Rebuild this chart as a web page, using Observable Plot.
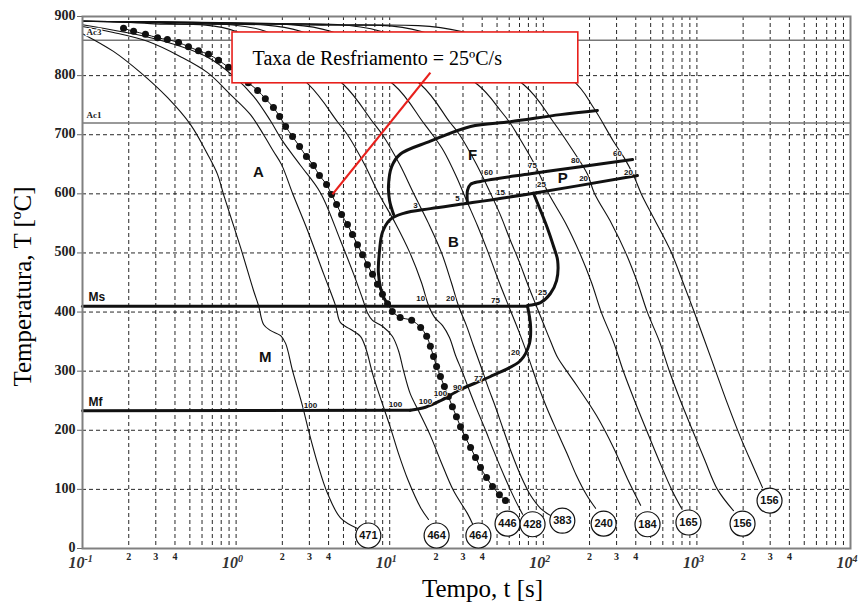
<!DOCTYPE html>
<html>
<head>
<meta charset="utf-8">
<script src="https://cdn.jsdelivr.net/npm/d3@7"></script>
<script src="https://cdn.jsdelivr.net/npm/@observablehq/plot@0.6"></script>
<style>
  html, body { margin: 0; padding: 0; background: #fff; }
  #chart svg { display: block; }
</style>
</head>
<body>
<div id="chart"></div>
<script>
// Continuous-cooling curves, [time (s), temperature (°C)], named by final hardness (HV)
const curve471 = [[0.1,871],[0.159,841],[0.239,805],[0.357,763],[0.505,717],[0.652,667],[0.757,633],[0.828,599],[1.07,509],[1.30,436],[1.40,411],[1.51,379],[1.67,369],[1.95,360],[2.10,347],[2.33,301],[2.70,242],[2.96,200],[3.39,144],[3.94,93],[4.78,52],[6.17,34]];
const curve464a = [[0.1,883],[0.159,873],[0.265,858],[0.435,832],[0.652,805],[0.920,768],[1.24,734],[1.51,700],[1.75,672],[1.98,649],[2.33,601],[2.92,538],[3.71,465],[4.44,411],[4.78,382],[5.55,371],[6.45,359],[7.06,335],[7.73,296],[9.12,239],[10.1,205],[11.4,161],[13.2,115],[15.9,69],[17.9,49]];
const curve464b = [[0.1,886],[0.308,861],[0.652,831],[0.962,799],[1.30,765],[1.67,724],[2.00,690],[2.63,648],[3.54,602],[4.78,521],[5.81,465],[6.65,423],[7.16,399],[7.73,386],[8.97,376],[10.4,359],[11.4,335],[12.3,301],[13.6,262],[15.4,233],[18.4,191],[21.4,149],[26.0,98],[32.1,59],[34.6,42]];
const curve428 = [[0.1,892],[0.277,888],[0.99,875],[2.96,785],[4.57,722],[5.31,700],[6.85,650],[8.45,601],[10.9,550],[13.5,501],[16.1,450],[17.9,411],[19.6,391],[22.1,377],[24.5,357],[26.8,327],[29.8,298],[32.6,271],[36.7,237],[42.1,200],[47.4,166],[56.7,118],[65.9,81],[73.3,58]];
const curve383 = [[0.1,892],[0.374,888],[1.55,875],[5.00,785],[7.73,722],[8.97,700],[11.6,650],[14.3,601],[17.9,550],[21.7,501],[25.2,450],[28.0,411],[31.6,377],[35.1,343],[39.0,310],[43.3,276],[48.9,239],[55.1,200],[62.1,162],[71.1,124],[82.6,90],[95.9,68],[111,56]];
const curve240 = [[0.1,892],[0.587,888],[2.63,875],[10.6,785],[16.4,722],[19.0,700],[22.4,673],[27.2,629],[31.6,589],[37.3,546],[43.3,504],[50.3,458],[59.3,411],[68.9,369],[80.1,323],[91.6,279],[105,239],[122,200],[142,162],[164,124],[191,91],[219,68]];
const curve184 = [[0.1,892],[0.791,888],[4.12,875],[15.9,785],[24.5,722],[28.5,700],[36.7,650],[45.3,601],[52.6,564],[61.1,521],[70.0,484],[78.9,448],[88.9,414],[100,381],[111,352],[124,323],[144,298],[169,272],[222,225],[286,171],[353,118],[430,73]];
const curve165 = [[0.1,892],[1.24,888],[8.71,875],[37.3,785],[52.6,741],[61.1,719],[67.9,700],[87.7,650],[108,601],[140,550],[172,501],[206,450],[239,399],[286,350],[333,299],[393,250],[470,200],[562,151],[684,100],[794,68]];
const curve156a = [[0.1,892],[2.63,886],[15.9,875],[74.3,785],[116,722],[157,672],[194,633],[215,601],[278,550],[343,501],[410,450],[477,399],[571,350],[664,299],[782,250],[936,200],[1120,151],[1361,100],[1730,64]];
const curve156b = [[0.1,892],[4.12,886],[28.9,875],[155,792],[212,746],[286,689],[338,660],[387,631],[436,599],[521,560],[673,504],[818,448],[951,403],[1104,357],[1321,301],[1581,245],[1923,188],[2339,137],[2674,103]];

// Cooling at 25 °C/s (dotted path)
const rate25 = [[0.185,880],[0.215,875],[0.257,870],[0.308,864],[0.357,861],[0.422,856],[0.490,849],[0.569,842],[0.661,836],[0.768,826],[0.893,814],[1.04,802],[1.20,788],[1.38,775],[1.55,761],[1.75,746],[1.92,731],[2.10,714],[2.33,697],[2.59,680],[2.87,663],[3.19,648],[3.49,631],[3.88,616],[4.18,599],[4.51,582],[4.86,565],[5.31,548],[5.72,531],[6.17,514],[6.65,497],[7.16,480],[7.73,464],[8.33,447],[8.97,430],[9.68,414],[10.4,401],[11.7,391],[13.9,386],[15.9,374],[17.4,359],[18.4,342],[19.3,325],[20.2,308],[21.4,291],[22.7,274],[24.1,257],[25.6,240],[27.2,223],[28.9,206],[31.1,188],[33.6,171],[36.2,154],[39.0,137],[42.7,120],[46.7,105],[51.8,91],[56.7,81]];

// Transformation boundaries
const ferriteStart = [[225,741],[129,734],[61.1,722],[33.6,714],[18.4,689],[11.7,667],[10.3,646],[9.82,614],[9.97,589],[10.6,565]];
const bainiteStart = [[410,631],[86.3,601],[32.1,584],[18.4,575],[12.3,567],[10.1,557],[8.97,535],[8.59,504],[8.45,465],[9.12,425],[9.97,411]];
const pearliteStart = [[32.1,584],[32.1,606],[33.6,616],[39.0,621],[82.6,634],[175,646],[381,658]];
const bainiteEnd = [[86.3,601],[95.9,572],[106,543],[116,513],[124,487],[122,453],[111,431],[95.9,416],[78.9,411]];
const msLine = [[0.1,410],[78.9,410]];
const mfCurve = [[78.9,410],[82.6,377],[81.3,347],[71.1,318],[45.3,291],[28.9,269],[21.4,250],[17.1,239],[13.6,234]];
const mfLine = [[13.6,234],[0.1,233]];

// Critical temperatures
const acTemps = [860, 720];
const acNames = ["Ac3", "Ac1"];
const acLabelT = [874, 734];

// Final hardness, with label position
const hardness = [471, 464, 464, 446, 428, 383, 240, 184, 165, 156, 156];
const hardnessTime = [7.26, 20.2, 37.8, 58.5, 85.1, 133, 247, 477, 881, 1982, 2971];
const hardnessTemp = [22, 22, 22, 42, 41, 47, 42, 41, 44, 42, 81];

// Phase field letters
const phaseText = ["A", "M", "F", "B", "P"];
const phaseTime = [1.40, 1.55, 34.6, 26.0, 134];
const phaseTemp = [636, 323, 665, 518, 626];

// Percent-transformed figures along the boundaries
const pctText = ["3","5","15","25","60","75","80","60","20","20","10","20","75","25","20","77","90","100","100","100","100"];
const pctTime = [14.7,27.6,52.6,97.3,44.0,85.1,162,304,183,359,15.9,24.9,48.9,98.8,65.9,37.8,27.6,21.4,17.1,10.9,3.05];
const pctTemp = [580,592,602,616,636,648,656,668,626,636,423,423,420,433,332,288,272,262,249,244,242];

// Axes
const yTicks = [0, 100, 200, 300, 400, 500, 600, 700, 800, 900];
const decades = [0.1, 1, 10, 100, 1000, 10000];
const decadeExp = ["-1", "0", "1", "2", "3", "4"];
const minorTicks = [0.2, 0.3, 0.4, 2, 3, 4, 20, 30, 40, 200, 300, 400, 2000, 3000, 4000];
const minorText = ["2","3","4","2","3","4","2","3","4","2","3","4","2","3","4"];

// Annotation
const noteText = "Taxa de Resfriamento = 25ºC/s";
const noteBox = {t1: 0.948, t2: 169, T1: 787, T2: 873};
const noteTextAt = {t: 1.28, T: 829};
const noteArrow = {t1: 18.4, T1: 805, t2: 4.24, T2: 599};

const toRows = (id, pts) => pts.map(([t, T]) => ({id, t, T}));
const thinRows = [
  ...toRows("471", curve471), ...toRows("464a", curve464a), ...toRows("464b", curve464b),
  ...toRows("428", curve428), ...toRows("383", curve383), ...toRows("240", curve240),
  ...toRows("184", curve184), ...toRows("165", curve165), ...toRows("156a", curve156a),
  ...toRows("156b", curve156b)
];
const thickRows = [
  ...toRows("Fs", ferriteStart), ...toRows("Bs", bainiteStart), ...toRows("Ps", pearliteStart),
  ...toRows("Bf", bainiteEnd), ...toRows("Mfc", mfCurve)
];
const straightRows = [...toRows("Ms", msLine), ...toRows("Mf", mfLine)];
const dotRows = toRows("r25", rate25);
const hardRows = hardness.map((h, i) => ({h, t: hardnessTime[i], T: hardnessTemp[i]}));
const phaseRows = phaseText.map((s, i) => ({s, t: phaseTime[i], T: phaseTemp[i]}));
const pctRows = pctText.map((s, i) => ({s, t: pctTime[i], T: pctTemp[i]}));

const serif = "'Liberation Serif', 'Times New Roman', serif";
const sans = "'Liberation Sans', Arial, sans-serif";
const ink = "#111";
const red = "#e8201c";

const chart = Plot.plot({
  width: 860,
  height: 613,
  marginLeft: 82,
  marginRight: 10,
  marginTop: 16,
  marginBottom: 65,
  x: {type: "log", domain: [0.1, 10000]},
  y: {domain: [0, 900]},
  style: {background: "#fff", fontFamily: serif, overflow: "visible"},
  marks: [
    Plot.gridX({ticks: 60, stroke: ink, strokeOpacity: 0.9, strokeWidth: 1, strokeDasharray: "4,3"}),
    Plot.gridY([100, 200, 300, 400, 500, 600, 700, 800], {stroke: ink, strokeOpacity: 0.9, strokeWidth: 1, strokeDasharray: "4,3"}),
    Plot.ruleY(acTemps, {stroke: "#777", strokeWidth: 1.5}),
    Plot.axisY({ticks: yTicks, tickSize: 5, tickFormat: () => "", label: null, stroke: "#666"}),
    Plot.axisX({ticks: [], label: null}),

    // cooling curves
    Plot.line(thinRows, {x: "t", y: "T", z: "id", stroke: ink, strokeWidth: 1.1, curve: "catmull-rom"}),
    Plot.line(dotRows, {x: "t", y: "T", stroke: ink, strokeWidth: 1, curve: "catmull-rom"}),
    Plot.dot(dotRows, {x: "t", y: "T", r: 3.5, fill: ink, stroke: "none"}),

    // transformation boundaries
    Plot.line(thickRows, {x: "t", y: "T", z: "id", stroke: ink, strokeWidth: 3, curve: "catmull-rom", strokeLinejoin: "round"}),
    Plot.line(straightRows, {x: "t", y: "T", z: "id", stroke: ink, strokeWidth: 3}),

    Plot.frame({stroke: "#808080", strokeWidth: 2}),

    // critical temperature labels
    Plot.text(acNames, {frameAnchor: "left", y: (d, i) => acLabelT[i], dx: 4, text: d => d, textAnchor: "start", fontSize: 9, fontWeight: "bold", fill: "#222", stroke: "#fff", strokeWidth: 2.5, paintOrder: "stroke"}),
    Plot.text(["Ms"], {frameAnchor: "left", y: 426, dx: 6, text: d => d, textAnchor: "start", fontFamily: sans, fontWeight: "bold", fontSize: 12, fill: ink}),
    Plot.text(["Mf"], {frameAnchor: "left", y: 247, dx: 6, text: d => d, textAnchor: "start", fontFamily: sans, fontWeight: "bold", fontSize: 12, fill: ink}),

    // phase fields
    Plot.text(phaseRows, {x: "t", y: "T", text: "s", fontFamily: sans, fontWeight: "bold", fontSize: 15, fill: ink}),
    Plot.text(pctRows, {x: "t", y: "T", text: "s", fontFamily: sans, fontSize: 8, fontWeight: "bold", fill: ink, stroke: "#fff", strokeWidth: 1.5, paintOrder: "stroke"}),

    // final hardness
    Plot.dot(hardRows, {x: "t", y: "T", r: 12.5, fill: "#fff", stroke: ink, strokeWidth: 1.2}),
    Plot.text(hardRows, {x: "t", y: "T", text: d => String(d.h), fontFamily: sans, fontWeight: "bold", fontSize: 11, fill: ink}),

    // y tick labels
    Plot.text(yTicks, {frameAnchor: "left", y: d => d, dx: -7, dy: -1, text: d => String(d), textAnchor: "end", fontSize: 14, fontWeight: "bold", fill: "#222"}),
    // x tick labels
    Plot.text(decades, {x: d => d, frameAnchor: "bottom", dy: 19, dx: 2, text: () => "10", textAnchor: "end", fontSize: 16, fontWeight: "bold", fontStyle: "italic", fill: "#333"}),
    Plot.text(decades, {x: d => d, frameAnchor: "bottom", dy: 13, dx: 2, text: (d, i) => decadeExp[i], textAnchor: "start", fontSize: 10, fontWeight: "bold", fontStyle: "italic", fill: "#333"}),
    Plot.text(minorTicks, {x: d => d, frameAnchor: "bottom", dy: 11, text: (d, i) => minorText[i], fontSize: 10, fontWeight: "bold", fill: "#222"}),

    // axis titles
    Plot.text(["Temperatura, T [ºC]"], {frameAnchor: "left", dx: -60, dy: 4, rotate: -90, textAnchor: "middle", text: d => d, fontSize: 25, fill: "#000"}),
    Plot.text(["Tempo, t [s]"], {frameAnchor: "bottom", dy: 48, dx: 16, text: d => d, fontSize: 25, fill: "#000"}),

    // annotation
    Plot.rect([noteBox], {x1: "t1", x2: "t2", y1: "T1", y2: "T2", fill: "#fff", stroke: red, strokeWidth: 1.6}),
    Plot.link([noteArrow], {x1: "t1", y1: "T1", x2: "t2", y2: "T2", stroke: red, strokeWidth: 2.2}),
    Plot.text([noteTextAt], {x: "t", y: "T", text: () => noteText, textAnchor: "start", fontSize: 20, fill: "#000"})
  ]
});

document.getElementById("chart").append(chart);
</script>
</body>
</html>
